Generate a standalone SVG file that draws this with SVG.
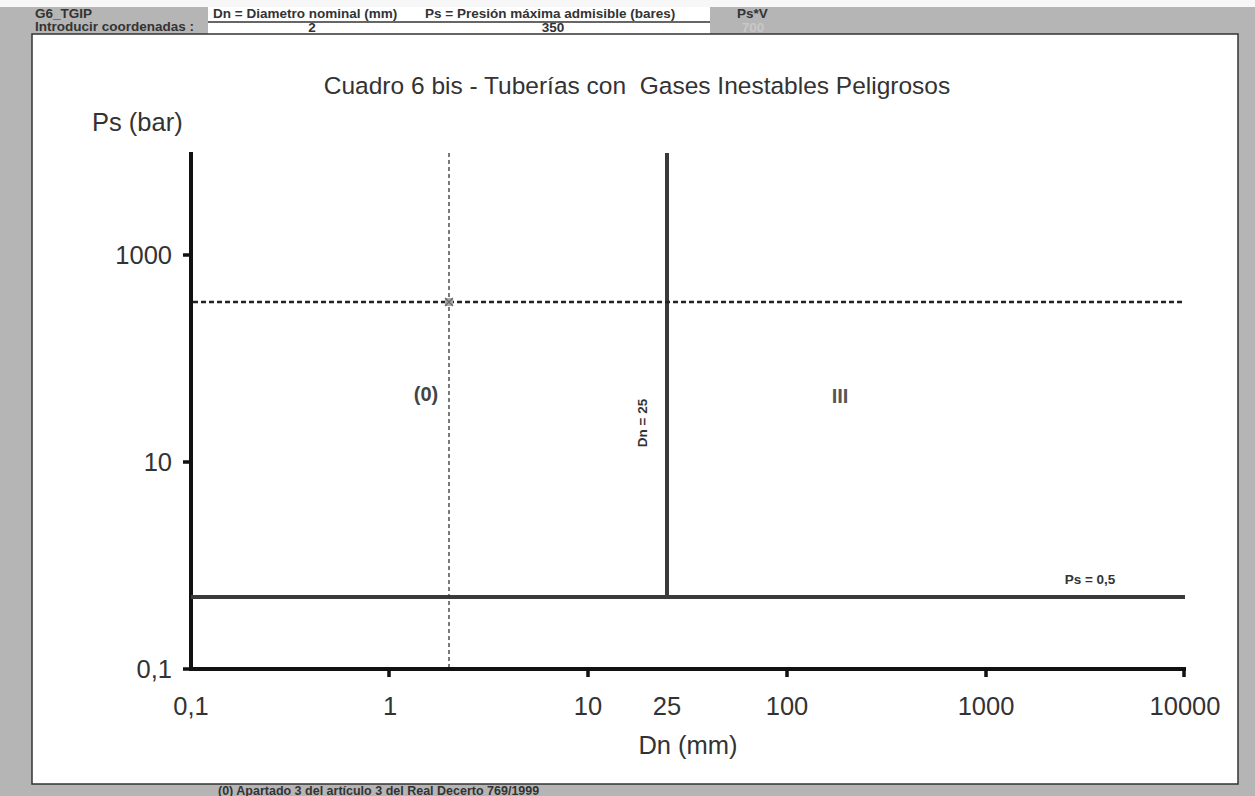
<svg xmlns="http://www.w3.org/2000/svg" width="1255" height="796" viewBox="0 0 1255 796">
<style>
.hdr{font-family:"Liberation Sans",Arial,sans-serif;font-size:13.5px;font-weight:bold;fill:#333}
.big{font-family:"Liberation Sans",Arial,sans-serif;font-size:25.5px;fill:#333}
.ttl{font-family:"Liberation Sans",Arial,sans-serif;font-size:24.5px;fill:#333}
.sm{font-family:"Liberation Sans",Arial,sans-serif;font-size:13.5px;font-weight:bold;fill:#333}
.zone{font-family:"Liberation Sans",Arial,sans-serif;font-size:20px;font-weight:bold;fill:#444}
.axis{stroke:#111;stroke-width:4;fill:none;stroke-linecap:butt}
.tick{stroke:#111;stroke-width:3.5}
.limit{stroke:#3a3a3a;stroke-width:4;fill:none}
.dashh{stroke:#222;stroke-width:2.5;stroke-dasharray:5 3;fill:none}
.dashv{stroke:#333;stroke-width:1.3;stroke-dasharray:4 3;fill:none}
</style>
<rect x="0" y="0" width="1255" height="796" fill="#b5b5b5"/>
<rect x="0" y="0" width="1255" height="7" fill="#f7f7f7"/>
<g id="header">
  <rect x="208" y="7" width="502" height="27" fill="#ffffff"/>
  <line x1="208" y1="22" x2="710" y2="22" stroke="#333" stroke-width="1.3"/>
  <text class="hdr" x="35" y="18">G6_TGIP</text>
  <text class="hdr" x="35" y="31">Introducir coordenadas :</text>
  <text class="hdr" x="213" y="18">Dn = Diametro nominal (mm)</text>
  <text class="hdr" x="425" y="18">Ps = Presión máxima admisible (bares)</text>
  <text class="hdr" x="737" y="18">Ps*V</text>
  <text class="hdr" x="312" y="32" text-anchor="middle">2</text>
  <text class="hdr" x="553" y="32" text-anchor="middle">350</text>
  <text class="hdr" x="753" y="32" text-anchor="middle" style="fill:#c8c8c8">700</text>
</g>
<rect id="panel" x="32" y="34" width="1206" height="750" fill="#ffffff" stroke="#333" stroke-width="1.5"/>
<g id="title">
  <text class="ttl" x="637" y="94" text-anchor="middle" xml:space="preserve">Cuadro 6 bis - Tuberías con  Gases Inestables Peligrosos</text>
</g>
<g id="y-axis">
  <line class="axis" x1="191" y1="152" x2="191" y2="671"/>
  <line class="tick" x1="183" y1="255" x2="191" y2="255"/>
  <line class="tick" x1="183" y1="462" x2="191" y2="462"/>
  <line class="tick" x1="183" y1="669" x2="191" y2="669"/>
  <text class="big" x="172" y="264" text-anchor="end">1000</text>
  <text class="big" x="172" y="471" text-anchor="end">10</text>
  <text class="big" x="172" y="678" text-anchor="end">0,1</text>
  <text class="big" x="92" y="131">Ps (bar)</text>
</g>
<g id="x-axis">
  <line class="axis" x1="189" y1="669" x2="1186" y2="669"/>
  <line class="tick" x1="389" y1="669" x2="389" y2="677"/>
  <line class="tick" x1="588" y1="669" x2="588" y2="677"/>
  <line class="tick" x1="787" y1="669" x2="787" y2="677"/>
  <line class="tick" x1="986" y1="669" x2="986" y2="677"/>
  <line class="tick" x1="1184" y1="669" x2="1184" y2="677"/>
  <text class="big" x="191" y="715" text-anchor="middle">0,1</text>
  <text class="big" x="390" y="715" text-anchor="middle">1</text>
  <text class="big" x="588" y="715" text-anchor="middle">10</text>
  <text class="big" x="667" y="715" text-anchor="middle">25</text>
  <text class="big" x="787" y="715" text-anchor="middle">100</text>
  <text class="big" x="986" y="715" text-anchor="middle">1000</text>
  <text class="big" x="1185" y="715" text-anchor="middle">10000</text>
  <text class="big" x="688" y="754" text-anchor="middle">Dn (mm)</text>
</g>
<g id="connectors">
  <line id="dn25" class="limit" x1="667" y1="153" x2="667" y2="597"/>
  <line id="ps05" class="limit" x1="191" y1="597" x2="1185" y2="597"/>
  <line id="dn-input" class="dashv" x1="449" y1="153" x2="449" y2="667"/>
  <line id="ps-input" class="dashh" x1="193" y1="302" x2="1185" y2="302"/>
</g>
<g id="point">
  <rect x="445" y="298" width="8" height="8" fill="#aaa"/>
  <path d="M445 298 L453 306 M453 298 L445 306" stroke="#666" stroke-width="1.2"/>
</g>
<g id="zone-0">
  <text class="zone" x="426" y="401" text-anchor="middle">(0)</text>
</g>
<g id="zone-III">
  <text class="zone" x="840" y="403" text-anchor="middle" style="fill:#555">III</text>
</g>
<g id="label-dn25">
  <text class="sm" transform="translate(647 423) rotate(-90)" text-anchor="middle">Dn = 25</text>
</g>
<g id="label-ps05">
  <text class="sm" x="1090" y="584" text-anchor="middle">Ps = 0,5</text>
</g>
<g id="footnote">
  <text class="sm" x="218" y="795" style="font-size:12.5px">(0) Apartado 3 del artículo 3 del Real Decerto 769/1999</text>
</g>
</svg>
